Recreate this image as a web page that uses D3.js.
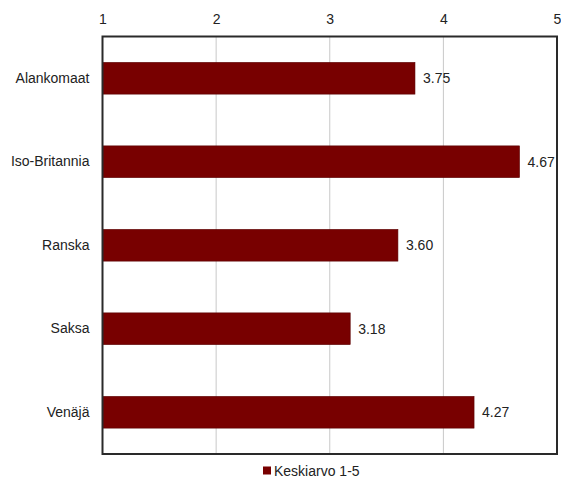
<!DOCTYPE html>
<html><head><meta charset="utf-8">
<script src="https://cdn.jsdelivr.net/npm/d3@7"></script>
<style>body{margin:0;background:#fff;} svg{display:block;font-family:"Liberation Sans",Arial,sans-serif;}</style>
</head><body>
<script>
const categories = ["Alankomaat","Iso-Britannia","Ranska","Saksa","Venäjä"];
const values = [3.75, 4.67, 3.60, 3.18, 4.27];
const ticks = [1,2,3,4,5];
const seriesName = "Keskiarvo 1-5";

const W = 561, H = 480;
const m = {left:102.5, right:4, top:36.5, bottom:26};
const FS = 14;
const svg = d3.select("body").append("svg").attr("width",W).attr("height",H);
const x = d3.scaleLinear().domain([1,5]).range([m.left, W-m.right]);
const y = d3.scaleBand().domain(categories).range([m.top, H-m.bottom]).paddingInner(0.62).paddingOuter(0.31);

// gridlines
svg.append("g").selectAll("line").data(ticks.slice(1,-1)).join("line")
  .attr("x1",d=>x(d)).attr("x2",d=>x(d)).attr("y1",m.top).attr("y2",H-m.bottom)
  .attr("stroke","#c8c8c8").attr("stroke-width",1);

// top axis
const ax = svg.append("g").attr("transform",`translate(0,${m.top})`)
  .call(d3.axisTop(x).tickValues(ticks).tickFormat(d3.format("d")).tickSize(0).tickPadding(13));
ax.select(".domain").remove();
ax.selectAll("text").attr("font-size",FS).attr("fill","#222").style("font-family","'Liberation Sans',Arial,sans-serif");

// bars
svg.append("g").selectAll("rect").data(values).join("rect")
  .attr("x",x(1)).attr("y",(d,i)=>y(categories[i]))
  .attr("width",d=>x(d)-x(1)).attr("height",y.bandwidth())
  .attr("fill","#780000").attr("stroke","#5a0000").attr("stroke-width",0.6);

// value labels
svg.append("g").selectAll("text").data(values).join("text")
  .attr("x",d=>x(d)+8).attr("y",(d,i)=>y(categories[i])+y.bandwidth()/2)
  .attr("dy","0.35em").attr("font-size",FS).attr("fill","#222")
  .text(d=>d3.format(".2f")(d));

// category axis
const ay = svg.append("g").attr("transform",`translate(${m.left},0)`)
  .call(d3.axisLeft(y).tickSize(0).tickPadding(13));
ay.select(".domain").remove();
ay.selectAll("text").attr("font-size",FS).attr("fill","#222").style("font-family","'Liberation Sans',Arial,sans-serif");

// frame
svg.append("rect").attr("x",m.left).attr("y",m.top).attr("width",x(5)-m.left).attr("height",H-m.bottom-m.top)
  .attr("fill","none").attr("stroke","#2a2a2a").attr("stroke-width",2);

// legend
const lg = svg.append("g").attr("transform","translate(263,471)");
lg.append("rect").attr("x",0).attr("y",-4.5).attr("width",8).attr("height",8).attr("fill","#780000");
lg.append("text").attr("x",11).attr("y",0).attr("dy","0.35em").attr("font-size",FS).attr("fill","#222").text(seriesName);
</script>
</body></html>
